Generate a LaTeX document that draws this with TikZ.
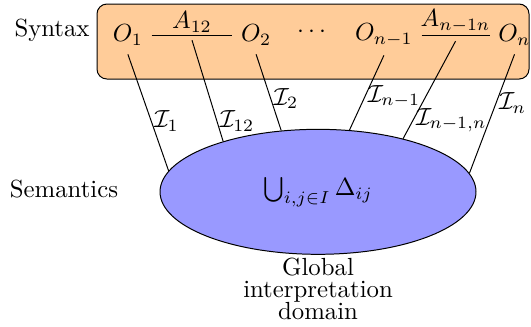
\documentclass[tikz,border=0pt]{standalone}
\usepackage{amsmath,amssymb}
\usetikzlibrary{positioning,shapes.geometric}
\tikzset{
  synbox/.style={draw,rounded corners=4pt,fill=orange!40,minimum width=6.128cm,minimum height=1.064cm},
  rel/.style={above,inner sep=1pt},
  dombox/.style={ellipse,draw,fill=blue!40,minimum width=4.482cm,minimum height=1.773cm,inner sep=0pt},
  intp/.style={right,inner sep=1pt},
  globtxt/.style={text width=2.4cm,align=center,font={\baselineskip=8.9pt\lineskiplimit=-5pt}},
}
\begin{document}
\begin{tikzpicture}
  \useasboundingbox (0,0) rectangle (7.532,-4.638);
  \node[synbox] (syn) at (4.440,-0.589) {};
  \node (syntxt) at (0.738,-0.423) {Syntax};
  \node (semtxt) at (0.908,-2.681) {Semantics};
  \node[dombox] (dom) at (4.511,-2.721) {$\bigcup_{i,j\in I}\Delta_{ij}$};
  \node[globtxt] (glob) at (4.511,-4.102) {Global\\ interpretation\\ domain};

  \node (o1) at (1.814,-0.50) {$O_1$};
  \node[right=1.145cm of o1] (o2) {$O_2$};
  \node[right=0.12cm of o2,yshift=1.3pt] (dots) {$\cdots$};
  \node[right=0.942cm of o2] (on1) {$O_{n-1}$};
  \node[right=0.965cm of on1] (on) {$O_n$};
  \draw (o1) -- node[rel] (a12) {$A_{12}$} (o2);
  \draw (on1) -- node[rel] (ann) {$A_{n-1n}$} (on);
  \coordinate (a12b) at ([yshift=-2pt]a12.south);
  \coordinate (annb) at ([yshift=-2.4pt]ann.south);

  \draw (o1.south) -- node[intp,pos=0.57] {$\mathcal{I}_1$} (dom.172.5);
  \draw (a12b) -- node[intp,pos=0.8] {$\mathcal{I}_{12}$} (dom.152);
  \draw (o2.south) -- node[intp,pos=0.58] {$\mathcal{I}_2$} (dom.121.5);
  \draw (on1.south) -- node[intp,pos=0.55] {$\mathcal{I}_{n-1}$} (dom.63.5);
  \draw (annb) -- node[intp,pos=0.81] {$\mathcal{I}_{n-1,n}$} (dom.32);
  \draw (on.south) -- node[intp,pos=0.41] {$\mathcal{I}_n$} (dom.7.5);
\end{tikzpicture}
\end{document}
